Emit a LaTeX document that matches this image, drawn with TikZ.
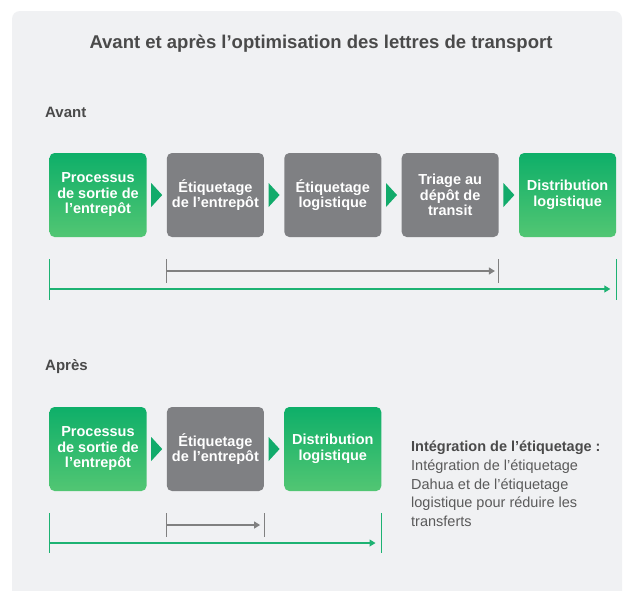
\documentclass[tikz,border=0pt]{standalone}
\usepackage{fontspec}
\setmainfont{Liberation Sans}
\usepackage{xcolor}
\usetikzlibrary{positioning,calc,arrows.meta}

\definecolor{panelbg}{HTML}{F0F1F3}
\definecolor{boxgreen}{HTML}{0EAF69}
\definecolor{boxgreenlo}{HTML}{52C673}
\definecolor{boxgrey}{HTML}{7F8083}
\definecolor{arrowgreen}{HTML}{12AB6B}
\definecolor{linegreen}{HTML}{1DB272}
\definecolor{linegrey}{HTML}{808080}
\definecolor{titlegrey}{HTML}{4A4A4A}
\definecolor{textgrey}{HTML}{5A5A5A}

\begin{document}
\begin{tikzpicture}[x=1pt,y=-1pt,
	stage/.style={rounded corners=5pt,minimum width=97pt,minimum height=84pt,inner sep=0pt,
		align=center,text=white,font=\fontsize{14.5}{15.5}\selectfont\bfseries},
	gbox/.style={stage,top color=boxgreen,bottom color=boxgreenlo},
	kbox/.style={stage,fill=boxgrey},
	sect/.style={anchor=west,inner sep=0pt,text=titlegrey,font=\fontsize{15}{18}\selectfont\bfseries},
	gline/.style={linegreen,line width=1.1pt},
	kline/.style={linegrey,line width=1.1pt},
	tip/.style={-{Triangle[length=6pt,width=7pt]}}]
	\useasboundingbox (0,0) rectangle (626,590);
	\fill[white] (0,0) rectangle (626,590);
	\fill[panelbg,rounded corners=8pt] (12,11) rectangle (622,620);

	% title and section labels
	\node[text=titlegrey,font=\fontsize{18.5}{22}\selectfont\bfseries] (title) at (321,44) {Avant et après l’optimisation des lettres de transport};
	\node[sect] (avant) at (45,112) {Avant};
	\node[sect] (apres) at (45,367) {Après};

	% before
	\node[gbox] (a1) at (98,195) {Processus\\de sortie de\\l’entrepôt};
	\node[kbox,right=20pt of a1] (a2) {Étiquetage\\de l’entrepôt};
	\node[kbox,right=20pt of a2] (a3) {Étiquetage\\logistique};
	\node[kbox,right=20pt of a3] (a4) {Triage au\\dépôt de\\transit};
	\node[gbox,right=20pt of a4] (a5) {Distribution\\logistique};
	\foreach \l/\r in {a1/a2,a2/a3,a3/a4,a4/a5}
		\fill[arrowgreen] ($(\l.east)!0.5!(\r.west)+(-5.5,-12)$) -- ++(11,12) -- ++(-11,12) -- cycle;

	\coordinate (gl) at (a1.west |- 0,289);
	\coordinate (gr) at (a5.east |- 0,289);
	\coordinate (kl) at (a2.west |- 0,271);
	\coordinate (kr) at (a4.east |- 0,271);
	\draw[gline] ($(gl)+(0,-30)$) -- ($(gl)+(0,11)$);
	\draw[gline] ($(gr)+(0,-30)$) -- ($(gr)+(0,11)$);
	\draw[gline,tip,shorten >=6pt] (gl) -- (gr);
	\draw[kline] ($(kl)+(0,-12)$) -- ($(kl)+(0,12)$);
	\draw[kline] ($(kr)+(0,-12)$) -- ($(kr)+(0,12)$);
	\draw[kline,tip,shorten >=4pt] (kl) -- (kr);

	% after
	\node[gbox] (b1) at (98,449) {Processus\\de sortie de\\l’entrepôt};
	\node[kbox,right=20pt of b1] (b2) {Étiquetage\\de l’entrepôt};
	\node[gbox,right=20pt of b2] (b3) {Distribution\\logistique};
	\foreach \l/\r in {b1/b2,b2/b3}
		\fill[arrowgreen] ($(\l.east)!0.5!(\r.west)+(-5.5,-12)$) -- ++(11,12) -- ++(-11,12) -- cycle;

	\coordinate (hl) at (b1.west |- 0,543);
	\coordinate (hr) at (b3.east |- 0,543);
	\coordinate (jl) at (b2.west |- 0,525);
	\coordinate (jr) at (b2.east |- 0,525);
	\draw[gline] ($(hl)+(0,-30)$) -- ($(hl)+(0,10)$);
	\draw[gline] ($(hr)+(0,-30)$) -- ($(hr)+(0,10)$);
	\draw[gline,tip,shorten >=6pt] (hl) -- (hr);
	\draw[kline] ($(jl)+(0,-12)$) -- ($(jl)+(0,12)$);
	\draw[kline] ($(jr)+(0,-12)$) -- ($(jr)+(0,12)$);
	\draw[kline,tip,shorten >=4pt] (jl) -- (jr);

	\node[anchor=north west,align=left,inner sep=0pt,text=textgrey,font=\fontsize{14.5}{18.7}\selectfont] (note) at (411,441)
		{{\bfseries\color{titlegrey}Intégration de l’étiquetage :}\\Intégration de l’étiquetage\\Dahua et de l’étiquetage\\logistique pour réduire les\\transferts};
\end{tikzpicture}
\end{document}
